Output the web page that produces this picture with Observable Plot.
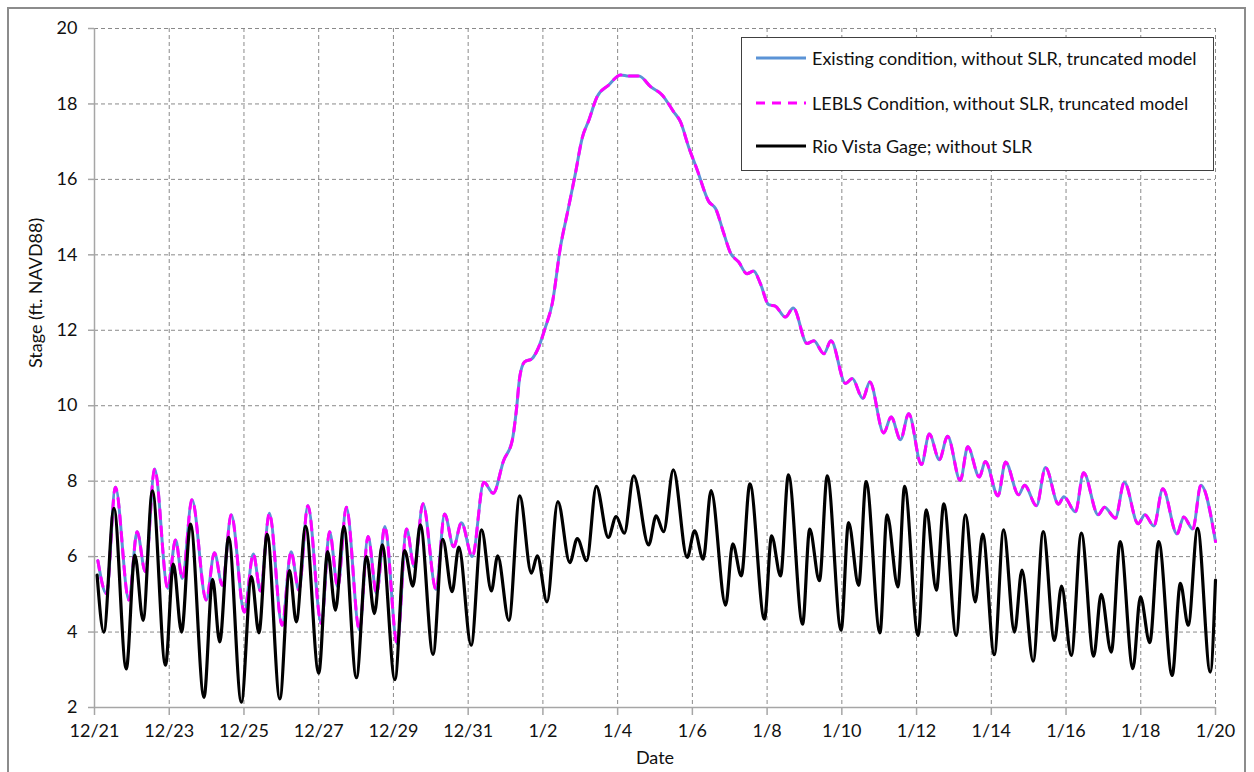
<!DOCTYPE html>
<html>
<head>
<meta charset="utf-8">
<script src="https://cdn.jsdelivr.net/npm/d3@7"></script>
<script src="https://cdn.jsdelivr.net/npm/@observablehq/plot@0.6"></script>
<style>
  html, body { margin: 0; padding: 0; background: #fff; overflow: hidden; }
  body { width: 1254px; height: 772px; position: relative; font-family: Lato, "Open Sans", sans-serif; }
  #frame { position: absolute; left: 7px; top: 7px; width: 1239px; height: 800px; border: 2px solid #8c8c8c; box-sizing: border-box; pointer-events: none; }
  #chart { position: absolute; left: 0; top: 0; }
  #legend { position: absolute; left: 741px; top: 37px; width: 473px; height: 134px; box-sizing: border-box; border: 1.5px solid #404040; background: #fff; }
  .row { position: absolute; left: 0; height: 20px; display: flex; align-items: center; }
  .row svg { margin-left: 14px; margin-right: 6px; }
  .row span { font-size: 18px; color: #111; white-space: nowrap; }
</style>
</head>
<body>
<div id="chart"></div>
<div id="frame"></div>
<div id="legend"></div>
<script>
// ---- Data (days since 12/21) ----
const tickDays = [0, 2, 4, 6, 8, 10, 12, 14, 16, 18, 20, 22, 24, 26, 28, 30];
const tickLabels = ["12/21","12/23","12/25","12/27","12/29","12/31","1/2","1/4","1/6","1/8","1/10","1/12","1/14","1/16","1/18","1/20"];
const yTicks = [2, 4, 6, 8, 10, 12, 14, 16, 18, 20];

const seriesNames = [
  "Existing condition, without SLR, truncated model",
  "LEBLS Condition, without SLR, truncated model",
  "Rio Vista Gage; without SLR"
];

// Existing condition (and LEBLS, which overlaps it)
const modelDays = [0.09,0.32,0.56,0.92,1.14,1.36,1.61,1.96,2.17,2.35,2.61,2.99,3.21,3.42,3.66,4.01,4.25,4.44,4.68,5.02,
  5.26,5.47,5.71,6.07,6.29,6.51,6.74,7.09,7.32,7.55,7.77,8.10,8.35,8.56,8.79,9.14,9.37,9.61,9.82,10.11,
  10.42,10.67,10.95,11.18,11.29,11.38,11.51,11.71,11.85,12.07,12.25,12.47,12.67,12.87,13.05,13.23,13.45,13.76,14.08,14.30,
  14.57,14.88,15.19,15.50,15.68,15.90,16.13,16.44,16.62,16.84,17.02,17.24,17.46,17.64,17.82,18.04,18.22,18.49,18.70,19.07,
  19.25,19.52,19.71,20.10,20.28,20.56,20.75,21.12,21.32,21.57,21.79,22.13,22.34,22.61,22.83,23.17,23.37,23.68,23.84,24.18,
  24.38,24.73,24.89,25.21,25.45,25.80,25.94,26.25,26.47,26.86,27.03,27.32,27.56,27.93,28.11,28.35,28.59,28.97,29.15,29.39,
  29.61,30.0];
const existingStage = [5.89,5.02,7.84,4.85,6.66,5.60,8.32,5.16,6.44,5.42,7.51,4.85,6.10,5.24,7.11,4.53,6.07,5.09,7.15,4.18,
  6.13,5.11,7.35,4.23,6.66,5.20,7.31,4.05,6.53,5.02,6.80,3.69,6.73,5.73,7.40,5.13,7.13,6.26,6.90,6.00,
  7.97,7.68,8.55,9.08,9.88,10.76,11.16,11.25,11.47,12.09,12.71,14.21,15.18,16.16,17.09,17.57,18.19,18.50,18.77,18.74,
  18.74,18.46,18.24,17.79,17.53,16.86,16.25,15.41,15.23,14.57,14.05,13.81,13.50,13.57,13.24,12.68,12.64,12.35,12.59,11.65,
  11.72,11.38,11.72,10.59,10.72,10.19,10.63,9.28,9.70,9.10,9.79,8.44,9.25,8.57,9.19,8.02,8.91,8.11,8.52,7.61,
  8.51,7.64,7.89,7.35,8.36,7.39,7.59,7.19,8.22,7.11,7.31,7.02,7.97,6.87,7.11,6.81,7.80,6.60,7.05,6.73,
  7.89,6.40];
const leblsStage = existingStage.slice();

// Rio Vista Gage
const gageDays = [0.07,0.25,0.52,0.85,1.08,1.30,1.55,1.90,2.11,2.33,2.57,2.93,3.16,3.35,3.59,3.93,4.20,4.40,4.62,4.96,
  5.22,5.40,5.65,6.00,6.24,6.45,6.67,7.01,7.28,7.49,7.70,8.04,8.30,8.52,8.72,9.06,9.32,9.57,9.75,10.08,
  10.36,10.62,10.79,11.09,11.38,11.69,11.85,12.11,12.40,12.72,12.92,13.17,13.43,13.75,13.96,14.18,14.43,14.83,15.03,15.23,
  15.49,15.86,16.06,16.29,16.50,16.89,17.08,17.31,17.54,17.93,18.12,18.36,18.57,18.95,19.14,19.40,19.61,19.98,20.18,20.45,
  20.65,21.02,21.21,21.50,21.68,22.04,22.26,22.53,22.73,23.06,23.31,23.57,23.77,24.08,24.33,24.62,24.82,25.12,25.39,25.69,
  25.88,26.14,26.41,26.74,26.94,27.21,27.45,27.79,27.99,28.24,28.48,28.84,29.06,29.27,29.52,29.86,30.0];
const gageStage = [5.51,4.00,7.28,3.02,6.04,4.31,7.74,3.12,5.80,4.00,6.86,2.27,5.40,3.74,6.51,2.14,5.47,3.98,6.59,2.23,
  5.63,4.27,6.80,2.91,6.13,4.58,6.80,2.79,6.00,4.49,6.31,2.74,6.16,5.22,6.84,3.41,6.46,5.07,6.25,3.65,
  6.71,5.09,6.02,4.31,7.61,5.56,6.02,4.80,7.46,5.84,6.48,5.89,7.86,6.51,7.06,6.62,8.14,6.31,7.08,6.66,
  8.30,5.98,6.68,5.93,7.75,4.71,6.34,5.49,7.93,4.34,6.55,5.49,8.17,4.21,6.73,5.36,8.14,4.05,6.90,5.24,
  7.99,3.98,7.11,5.20,7.86,3.91,7.24,5.11,7.40,3.91,7.11,4.80,6.60,3.40,6.71,4.00,5.64,3.23,6.66,3.78,
  5.22,3.38,6.62,3.36,5.00,3.47,6.40,3.03,4.93,3.72,6.40,2.85,5.29,4.18,6.75,2.94,5.38];

// ---- Build tables ----
const existing = modelDays.map((d, i) => ({day: d, stage: existingStage[i]}));
const lebls = modelDays.map((d, i) => ({day: d, stage: leblsStage[i]}));
const gage = gageDays.map((d, i) => ({day: d, stage: gageStage[i]}));

const colors = ["#5b93d6", "#ff00ff", "#000000"];
const gridStroke = "#8a8a8a";
const axisStroke = "#a6a6a6";
const textColor = "#111";

const chart = Plot.plot({
  width: 1254,
  height: 772,
  marginLeft: 94,
  marginRight: 39,
  marginTop: 28,
  marginBottom: 65,
  style: {fontFamily: "Lato, 'Open Sans', sans-serif", fontSize: "18px", color: textColor, background: "transparent"},
  x: {domain: [0, 30]},
  y: {domain: [2, 20]},
  marks: [
    Plot.ruleX(tickDays.slice(1), {stroke: gridStroke, strokeDasharray: "4,3", strokeWidth: 1}),
    Plot.ruleY(yTicks.slice(1), {stroke: gridStroke, strokeDasharray: "4,3", strokeWidth: 1}),
    Plot.ruleX([0], {stroke: axisStroke, strokeWidth: 1.5}),
    Plot.ruleY([2], {stroke: axisStroke, strokeWidth: 1.5}),
    Plot.axisY({ticks: yTicks, tickSize: 6, tickPadding: 11, stroke: axisStroke, strokeWidth: 1.5, fill: textColor, fontSize: 18, label: null}),
    Plot.axisX({ticks: tickDays, tickFormat: (d) => tickLabels[tickDays.indexOf(d)], tickSize: 8, tickPadding: 9, stroke: axisStroke, strokeWidth: 1.5, fill: textColor, fontSize: 18, label: null}),
    Plot.line(existing, {x: "day", y: "stage", stroke: colors[0], strokeWidth: 3, curve: "monotone-x"}),
    Plot.line(lebls, {x: "day", y: "stage", stroke: colors[1], strokeWidth: 3, strokeDasharray: "9,8", curve: "monotone-x"}),
    Plot.line(gage, {x: "day", y: "stage", stroke: colors[2], strokeWidth: 3.2, curve: "monotone-x"}),
    Plot.text(["Date"], {frameAnchor: "bottom", dy: 56, fontSize: 18, fill: textColor}),
    Plot.text(["Stage (ft. NAVD88)"], {frameAnchor: "left", dx: -58, rotate: -90, fontSize: 18, fill: textColor})
  ]
});
document.getElementById("chart").appendChild(chart);

// ---- Legend ----
const legend = document.getElementById("legend");
const rowTops = [10, 55, 98];
seriesNames.forEach((name, i) => {
  const row = document.createElement("div");
  row.className = "row";
  row.style.top = rowTops[i] + "px";
  const dash = i === 1 ? 'stroke-dasharray="9,7"' : "";
  row.innerHTML = `<svg width="50" height="6"><line x1="0" y1="3" x2="50" y2="3" stroke="${colors[i]}" stroke-width="3" ${dash}/></svg><span>${name}</span>`;
  legend.appendChild(row);
});
</script>
</body>
</html>
